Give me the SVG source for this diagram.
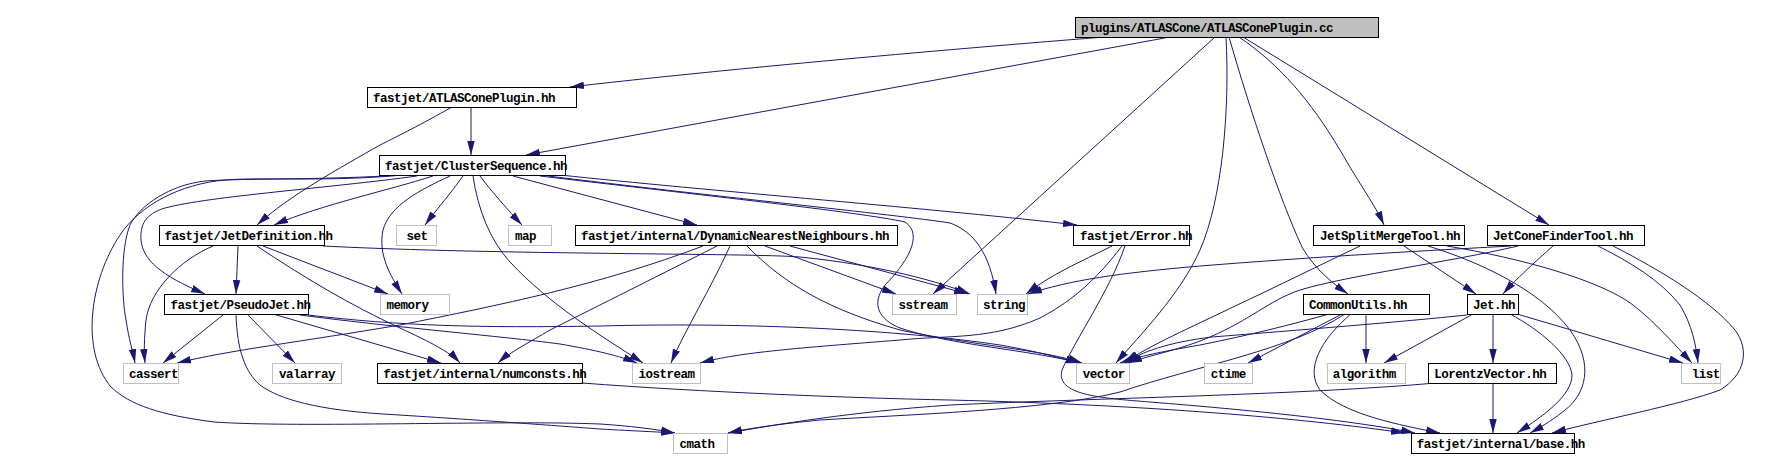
<svg xmlns="http://www.w3.org/2000/svg" width="1774" height="470" viewBox="0 0 1774 470">
<style>
.e{fill:none;stroke:#191970;stroke-width:1;marker-end:url(#arr)}
.n rect{fill:#fff;stroke:#000;stroke-width:1}
.g rect{fill:#fff;stroke:#bfbfbf;stroke-width:1}
.r rect{fill:#bfbfbf;stroke:#000;stroke-width:1}
text{font-family:"Liberation Mono","DejaVu Sans Mono",monospace;font-size:12.5px;letter-spacing:-0.5px;font-weight:bold;fill:#000}
</style>
<defs>
<marker id="arr" markerUnits="userSpaceOnUse" markerWidth="14" markerHeight="8" refX="14" refY="4" orient="auto" viewBox="0 0 14 8"><path d="M0,0.25 L14,4 L0,7.75 z" fill="#191970"/></marker>
</defs>
<rect width="1774" height="470" fill="#fff"/>
<g id="edges">
<path class="e" d="M1105,37 C900,53 690,73 570,87"/>
<path class="e" d="M1170,37 L526,155"/>
<path class="e" d="M1215,37 L933,294"/>
<path class="e" d="M1226,37 C1230,110 1222,200 1200,250 C1180,295 1140,335 1116,363"/>
<path class="e" d="M1229,37 C1250,110 1280,200 1302,247 C1315,270 1335,285 1348,294"/>
<path class="e" d="M1239,37 C1280,65 1310,100 1340,150 C1360,185 1375,205 1384,225"/>
<path class="e" d="M1243,37 L1549,225"/>
<path class="e" d="M471,107 L471,155"/>
<path class="e" d="M452,107 C420,125 400,135 380,145 C340,168 290,195 257,225"/>
<path class="e" d="M433,176 C390,190 320,205 274,225"/>
<path class="e" d="M417,176 C330,188 210,196 165,208 C145,214 140,225 141,240 C143,260 160,275 205,294"/>
<path class="e" d="M400,175 C330,180 250,178 205,181 C170,185 140,205 130,225 C120,250 122,300 126,320 C129,340 133,352 135,363"/>
<path class="e" d="M403,175 C330,182 260,177 225,180 C180,184 140,205 120,235 C90,280 80,350 111,387 C130,405 160,415 214,422 C300,428 500,420 600,424 C630,426 655,429 675,433"/>
<path class="e" d="M463,176 C452,192 436,210 425,225"/>
<path class="e" d="M450,176 C420,190 390,205 383,230 C378,255 390,275 402,294"/>
<path class="e" d="M480,176 C492,192 508,210 522,225"/>
<path class="e" d="M473,176 C478,210 490,240 510,262 C550,305 600,335 643,363"/>
<path class="e" d="M513,176 L697,225"/>
<path class="e" d="M560,175 C700,190 950,210 1077,225"/>
<path class="e" d="M540,176 C700,195 860,212 905,222 C925,235 905,265 885,285 C870,305 880,320 900,328 C950,345 1030,350 1080,363"/>
<path class="e" d="M548,176 C700,195 900,215 950,223 C975,232 990,255 996,294"/>
<path class="e" d="M238,246 L236,294"/>
<path class="e" d="M213,246 C180,260 150,290 146,320 C144,340 144,352 145,363"/>
<path class="e" d="M263,246 L388,294"/>
<path class="e" d="M257,246 C300,275 350,305 400,328 C430,342 450,352 460,363"/>
<path class="e" d="M323,246 C500,255 750,253 800,257 C880,265 940,282 970,294"/>
<path class="e" d="M223,315 L163,363"/>
<path class="e" d="M236,314 C237,350 245,372 260,385 C280,400 320,410 383,414 C480,420 560,426 600,429 C635,431 660,432 675,433"/>
<path class="e" d="M247,314 L295,363"/>
<path class="e" d="M273,314 L441,363"/>
<path class="e" d="M300,315 C400,328 500,336 560,344 C595,350 620,356 637,363"/>
<path class="e" d="M308,315 C400,326 480,328 600,326 C750,322 900,330 1000,345 C1040,352 1060,358 1080,363"/>
<path class="e" d="M703,246 C600,285 500,305 400,325 C300,342 230,350 177,363"/>
<path class="e" d="M717,246 C650,280 580,315 550,330 C530,342 510,352 498,363"/>
<path class="e" d="M730,246 C710,290 685,330 671,363"/>
<path class="e" d="M747,246 C785,285 830,310 900,330 C970,345 1045,350 1082,363"/>
<path class="e" d="M765,246 L896,294"/>
<path class="e" d="M790,246 L968,294"/>
<path class="e" d="M1112,246 C1080,262 1050,275 1026,294"/>
<path class="e" d="M1122,246 C1100,275 1075,300 1040,318 C990,340 950,335 900,340 C800,348 740,352 700,363"/>
<path class="e" d="M1125,246 C1110,290 1075,340 1062,370 C1055,395 1100,398 1150,402 C1250,410 1350,420 1415,433"/>
<path class="e" d="M1404,246 L1476,294"/>
<path class="e" d="M1360,246 C1320,265 1280,285 1233,307 C1190,328 1150,345 1124,363"/>
<path class="e" d="M1428,246 C1480,262 1540,290 1570,330 C1595,365 1585,395 1565,410 C1555,418 1545,425 1530,433"/>
<path class="e" d="M1447,246 C1520,258 1600,280 1633,305 C1655,322 1675,345 1692,363"/>
<path class="e" d="M1553,246 C1535,262 1515,280 1503,294"/>
<path class="e" d="M1598,246 C1630,262 1660,280 1680,305 C1692,325 1696,345 1698,363"/>
<path class="e" d="M1613,246 C1660,270 1710,300 1735,330 C1750,350 1745,375 1720,390 C1680,405 1600,420 1552,433"/>
<path class="e" d="M1511,246 C1400,252 1300,258 1200,266 C1120,273 1070,280 1028,294"/>
<path class="e" d="M1518,246 C1450,262 1350,275 1300,290 C1270,300 1250,320 1210,337 C1180,350 1150,355 1128,363"/>
<path class="e" d="M1329,314 C1290,325 1250,335 1200,345 C1160,352 1140,356 1120,363"/>
<path class="e" d="M1342,314 L1248,363"/>
<path class="e" d="M1366,314 L1366,363"/>
<path class="e" d="M1345,314 C1290,350 1200,365 1120,392 C1050,410 900,415 820,420 C780,424 750,428 728,433"/>
<path class="e" d="M1351,314 C1320,340 1305,370 1320,390 C1345,415 1400,425 1440,433"/>
<path class="e" d="M1467,315 C1400,322 1300,330 1212,337 C1170,342 1140,352 1126,363"/>
<path class="e" d="M1473,314 L1384,363"/>
<path class="e" d="M1493,314 L1493,363"/>
<path class="e" d="M1510,314 C1540,330 1570,355 1572,375 C1572,395 1545,415 1517,433"/>
<path class="e" d="M1517,314 L1683,363"/>
<path class="e" d="M1493,383 L1493,433"/>
<path class="e" d="M1436,383 C1300,395 1100,398 950,405 C850,412 780,424 728,433"/>
<path class="e" d="M582,383 C700,392 850,398 950,400 C1150,405 1300,418 1405,433"/>
</g>
<g id="root" class="r"><rect x="1075.5" y="17.5" width="303" height="20"/><text x="1081" y="32">plugins/ATLASCone/ATLASConePlugin.cc</text></g>
<g id="ATLASConePlugin_hh" class="n"><rect x="367.5" y="87.5" width="209" height="20"/><text x="373" y="102">fastjet/ATLASConePlugin.hh</text></g>
<g id="ClusterSequence_hh" class="n"><rect x="379.5" y="155.5" width="186" height="20"/><text x="385" y="170">fastjet/ClusterSequence.hh</text></g>
<g id="JetDefinition_hh" class="n"><rect x="159.5" y="225.5" width="165" height="20"/><text x="164.5" y="240">fastjet/JetDefinition.hh</text></g>
<g id="set" class="g"><rect x="396.5" y="225.5" width="40" height="20"/><text x="406.5" y="240">set</text></g>
<g id="map" class="g"><rect x="508.5" y="225.5" width="43" height="20"/><text x="515" y="240">map</text></g>
<g id="DynamicNearestNeighbours_hh" class="n"><rect x="575.5" y="225.5" width="322" height="20"/><text x="581" y="240">fastjet/internal/DynamicNearestNeighbours.hh</text></g>
<g id="Error_hh" class="n"><rect x="1073.5" y="225.5" width="116" height="20"/><text x="1080" y="240">fastjet/Error.hh</text></g>
<g id="JetSplitMergeTool_hh" class="n"><rect x="1313.5" y="225.5" width="151" height="20"/><text x="1320" y="240">JetSplitMergeTool.hh</text></g>
<g id="JetConeFinderTool_hh" class="n"><rect x="1487.5" y="225.5" width="157" height="20"/><text x="1493" y="240">JetConeFinderTool.hh</text></g>
<g id="PseudoJet_hh" class="n"><rect x="164.5" y="294.5" width="144" height="20"/><text x="170.5" y="309">fastjet/PseudoJet.hh</text></g>
<g id="memory" class="g"><rect x="380.5" y="294.5" width="69" height="20"/><text x="386.5" y="309">memory</text></g>
<g id="sstream" class="g"><rect x="892.5" y="294.5" width="64" height="20"/><text x="898.5" y="309">sstream</text></g>
<g id="string" class="g"><rect x="977.5" y="294.5" width="50" height="20"/><text x="983" y="309">string</text></g>
<g id="CommonUtils_hh" class="n"><rect x="1303.5" y="294.5" width="126" height="20"/><text x="1309" y="309">CommonUtils.hh</text></g>
<g id="Jet_hh" class="n"><rect x="1467.5" y="294.5" width="51" height="20"/><text x="1473" y="309">Jet.hh</text></g>
<g id="cassert" class="g"><rect x="123.5" y="363.5" width="55" height="20"/><text x="129" y="378">cassert</text></g>
<g id="valarray" class="g"><rect x="272.5" y="363.5" width="69" height="20"/><text x="279" y="378">valarray</text></g>
<g id="numconsts_hh" class="n"><rect x="377.5" y="363.5" width="205" height="20"/><text x="383.3" y="378">fastjet/internal/numconsts.hh</text></g>
<g id="iostream" class="g"><rect x="632.5" y="363.5" width="68" height="20"/><text x="638.5" y="378">iostream</text></g>
<g id="vector" class="g"><rect x="1076.5" y="363.5" width="53" height="20"/><text x="1082.7" y="378">vector</text></g>
<g id="ctime" class="g"><rect x="1204.5" y="363.5" width="48" height="20"/><text x="1210.7" y="378">ctime</text></g>
<g id="algorithm" class="g"><rect x="1327.5" y="363.5" width="78" height="20"/><text x="1332.7" y="378">algorithm</text></g>
<g id="LorentzVector_hh" class="n"><rect x="1428.5" y="363.5" width="128" height="20"/><text x="1434.3" y="378">LorentzVector.hh</text></g>
<g id="list" class="g"><rect x="1681.5" y="363.5" width="39" height="20"/><text x="1691.7" y="378">list</text></g>
<g id="cmath" class="g"><rect x="673.5" y="433.5" width="54" height="20"/><text x="679.6" y="448">cmath</text></g>
<g id="base_hh" class="n"><rect x="1411.5" y="433.5" width="163" height="20"/><text x="1416.7" y="448">fastjet/internal/base.hh</text></g>
</svg>
